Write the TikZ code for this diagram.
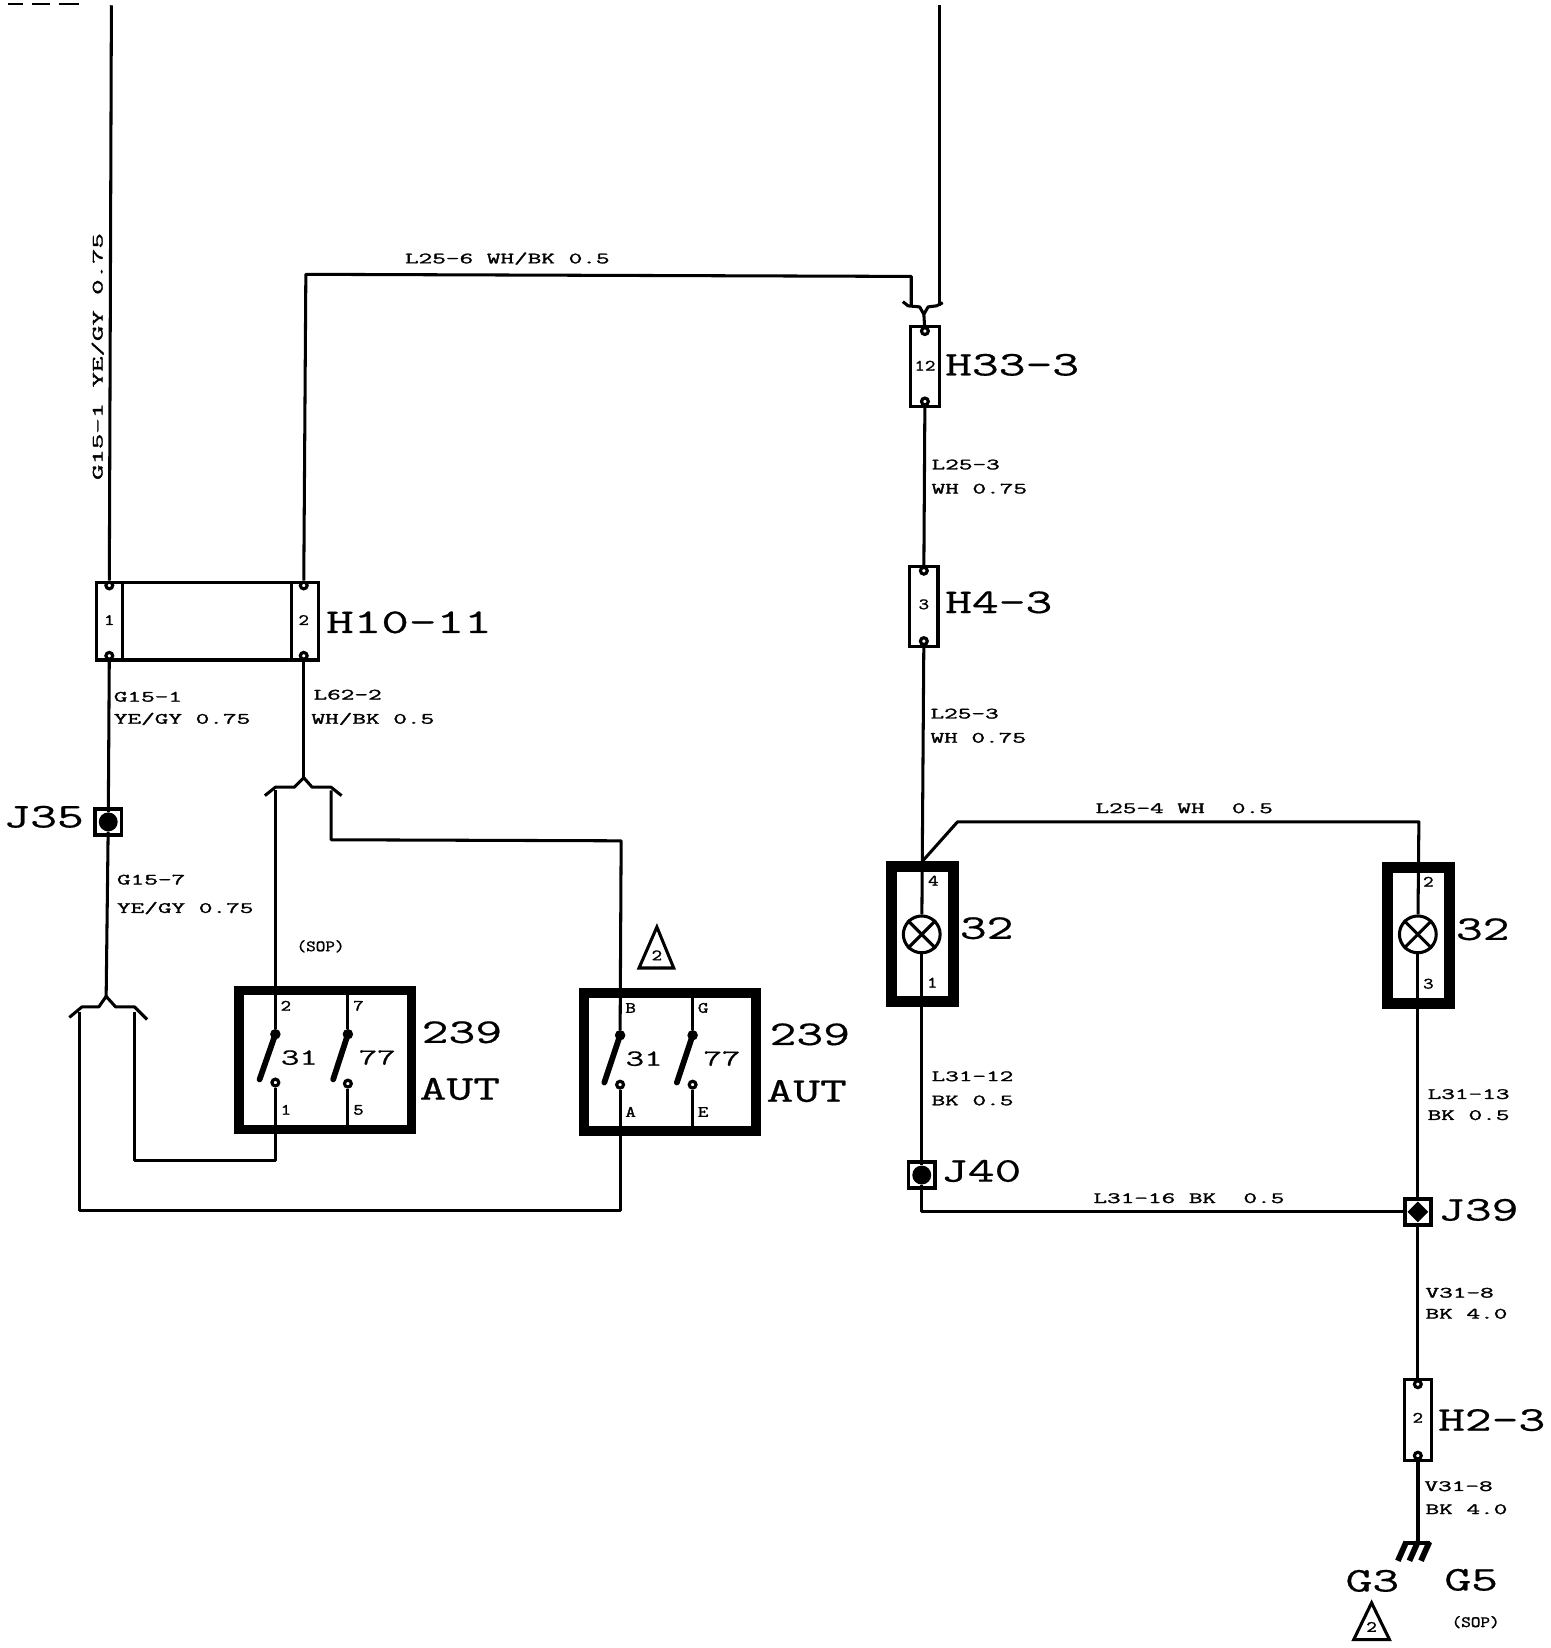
\documentclass[tikz,border=0pt]{standalone}
\usepackage{fontspec}
\usetikzlibrary{shapes}
\newfontfamily\wirefont[FakeBold=1.4]{Latin Modern Mono}
\newfontfamily\bigfont[FakeBold=0.5]{Latin Modern Mono}
\tikzset{
  wire/.style={line width=2.9pt,line join=round},
  thickwire/.style={line width=3.8pt,line join=round},
  connbox/.style={draw,line width=3pt,inner sep=0pt},
  relaybox/.style={draw,line width=9pt,inner sep=0pt},
  lampbox/.style={draw,line width=10.5pt,inner sep=0pt},
  jointbox/.style={draw,line width=3.5pt,inner sep=0pt,minimum size=25pt},
  jointdot/.style={circle,fill=black,inner sep=0pt,minimum size=18pt},
  termdot/.style={circle,draw,fill=white,line width=3pt,inner sep=0pt,minimum size=6.5pt},
  pivotdot/.style={circle,fill=black,inner sep=0pt,minimum size=10pt},
  blade/.style={line width=5.5pt,line cap=round},
  bigtext/.style={inner sep=0pt,anchor=west,text height=20.5pt,text depth=0pt,xscale=1.5,
    font=\fontsize{33}{33}\selectfont\bigfont},
  midtext/.style={inner sep=0pt,anchor=west,text height=14pt,text depth=0pt,xscale=1.55,
    font=\fontsize{22}{22}\selectfont\bigfont},
  wiretext/.style={inner sep=0pt,anchor=west,text height=9.2pt,text depth=0pt,xscale=1.68,
    font=\fontsize{15}{15}\selectfont\wirefont},
  sidetext/.style={inner sep=0pt,anchor=west,text height=9.2pt,text depth=0pt,yscale=1.9,rotate=90,
    font=\fontsize{15}{15}\selectfont\wirefont},
  pintext/.style={inner sep=0pt,text height=9.2pt,text depth=0pt,xscale=1.3,
    font=\fontsize{15}{15}\selectfont\wirefont},
  soptext/.style={inner sep=0pt,text height=11pt,text depth=3pt,xscale=1.18,
    font=\fontsize{15}{15}\selectfont\wirefont},
}

\begin{document}
\begin{tikzpicture}[x=1pt,y=-1pt]
  \useasboundingbox (0,0) rectangle (1475,1568);
  % Free wire ends
  \coordinate (topA) at (106,5);
  \coordinate (topB) at (894,5);
  % Top dashes
  \draw[line width=2pt] (8,4) -- (22,4) (30,4) -- (48,4) (56,4) -- (75,4);

  % Connectors
  \node[connbox,minimum width=211pt,minimum height=74pt] (H10) at (197.5,591) {};
  \node[connbox,minimum width=27pt,minimum height=76pt] (H33) at (880,349) {};
  \node[connbox,minimum width=27pt,minimum height=76pt] (H4) at (879,577) {};
  \node[connbox,minimum width=26pt,minimum height=77pt] (H2) at (1349,1351) {};
  \draw[wire] (117,554) -- (117,628);
  \draw[wire] (277,554) -- (277,628);
  % Connector pins
  \node[termdot] (H10a) at (104,557) {};
  \node[termdot] (H10b) at (289,557) {};
  \node[termdot] (H10c) at (104,624) {};
  \node[termdot] (H10d) at (289,624) {};
  \node[termdot] (H33a) at (880,315) {};
  \node[termdot] (H33b) at (880,382) {};
  \node[termdot] (H4a) at (879,543) {};
  \node[termdot] (H4b) at (879,610) {};
  \node[termdot] (H2a) at (1349,1317) {};
  \node[termdot] (H2b) at (1349,1385) {};

  % Joints
  \node[jointbox] (J35) at (103,782) {};
  \node[jointdot] (J35d) at (103,782) {};
  \node[jointbox] (J40) at (877,1118) {};
  \node[jointdot] (J40d) at (877,1118) {};
  \node[jointbox] (J39) at (1349,1153) {};
  \node[diamond,fill=black,inner sep=0pt,minimum size=20pt] (J39d) at (1349,1153) {};

  % Lamps
  \node[lampbox,minimum width=59pt,minimum height=129pt] (lampboxA) at (877.5,888.5) {};
  \node[lampbox,minimum width=59pt,minimum height=130pt] (lampboxB) at (1349.5,890) {};
  \node[circle,draw,line width=2.9pt,inner sep=0pt,minimum size=35pt] (lampA) at (877,889) {};
  \node[circle,draw,line width=2.9pt,inner sep=0pt,minimum size=35pt] (lampB) at (1349,889) {};
  \draw[wire] (lampA.45) -- (lampA.225) (lampA.135) -- (lampA.315);
  \draw[wire] (lampB.45) -- (lampB.225) (lampB.135) -- (lampB.315);

  % Switch boxes
  \node[relaybox,minimum width=164pt,minimum height=132pt] (relayA) at (309.5,1008.5) {};
  \node[relaybox,minimum width=164pt,minimum height=131pt] (relayB) at (637.5,1010.5) {};
  \node[pivotdot] (swAa) at (262,984) {};
  \node[pivotdot] (swAc) at (331,984) {};
  \node[termdot] (swAb) at (262,1030) {};
  \node[termdot] (swAd) at (331,1031) {};
  \node[pivotdot] (swBa) at (590,985) {};
  \node[pivotdot] (swBc) at (659,985) {};
  \node[termdot] (swBb) at (590,1032) {};
  \node[termdot] (swBd) at (659,1032) {};
  \draw[blade] (swAa.center) -- (247,1027);
  \draw[blade] (swAc.center) -- (317,1027);
  \draw[blade] (swBa.center) -- (575,1030);
  \draw[blade] (swBc.center) -- (644,1030);

  % Splice forks
  \coordinate (forkT) at (879,299);
  \coordinate (forkA) at (289,740);
  \coordinate (forkB) at (101,948);
  \coordinate (forkTl) at (867,291);
  \coordinate (forkTr) at (894,291);
  \coordinate (forkAl) at (262,752);
  \coordinate (forkAr) at (315,752);
  \coordinate (forkBl) at (76,963);
  \coordinate (forkBr) at (128,963);
  \draw[wire] (859,287) -- (864,291) -- (875,292) -- (forkT) -- (883,292) -- (891,291) -- (897,288);
  \draw[wire] (252,757) -- (262,749) -- (280,749) -- (forkA) -- (297,749) -- (315,749) -- (325,757);
  \draw[wire] (66,968) -- (78,958) -- (94,958) -- (forkB) -- (110,958) -- (128,958) -- (140,970);

  % Wires, top part
  \draw[wire] (topA) -- (H10a);
  \draw[wire] (H10b) -- (291,261) -- (867,263) -- (forkTl);
  \draw[wire] (topB) -- (forkTr);
  \draw[wire] (forkT) -- (H33a);
  \draw[wire] (H33b) -- (H4a);
  \draw[wire] (H4b) -- (lampA);
  \draw[wire] (878,819) -- (911,782) -- (1350,782) -- (lampB);
  \draw[wire] (lampA) -- (J40d);
  \draw[wire] (lampB) -- (J39d);
  \draw[wire] (J40d) |- (J39d);
  \draw[wire] (J39d) -- (H2a);
  \draw[thickwire] (H2b) -- (1349,1468);

  % Wires, left part
  \draw[wire] (H10c) -- (J35d);
  \draw[wire] (J35d) -- (forkB);
  \draw[wire] (H10d) -- (forkA);
  \draw[wire] (forkAl) -- (swAa);
  \draw[wire] (forkAr) -- (315,799) -- (591,800) -- (swBa);
  \draw[wire] (forkBl) -- (76,1152) -- (590,1152) -- (swBb);
  \draw[wire] (forkBr) -- (128,1104) -- (262,1104) -- (swAb);
  \draw[wire] (swAc) -- (331,943);
  \draw[wire] (swAd) -- (331,1075);
  \draw[wire] (swBc) -- (659,946);
  \draw[wire] (swBd) -- (659,1076);

  % Ground
  \draw[line width=3.5pt] (1337,1468) -- (1361,1468);
  \draw[blade,line cap=butt] (1338,1467) -- (1330,1485);
  \draw[blade,line cap=butt] (1349,1467) -- (1341,1485);
  \draw[blade,line cap=butt] (1360,1467) -- (1352,1485);

  % Triangle marks
  \draw[line width=2.9pt,line join=miter] (625,882) -- (608,921) -- (641,921) -- cycle;
  \draw[line width=2.9pt,line join=miter] (1305,1525) -- (1288,1560) -- (1322,1560) -- cycle;
  \node[pintext] (triA) at (625,909) {2};
  \node[pintext] (triB) at (1305,1548) {2};

  % Big labels
  \node[bigtext] (lblH33) at (899,347) {H33-3};
  \node[bigtext] (lblH4) at (899,573) {H4-3};
  \node[bigtext,xscale=1.03] (lblH10) at (310,592) {H10-11};
  \node[bigtext] (lblH2) at (1368,1351) {H2-3};
  \node[bigtext] (lblJ35) at (3,777) {J35};
  \node[bigtext] (lblJ40) at (895,1114) {J40};
  \node[bigtext] (lblJ39) at (1368,1151) {J39};
  \node[bigtext] (lblLampA) at (913,883) {32};
  \node[bigtext] (lblLampB) at (1385,884) {32};
  \node[bigtext] (lblRelayA) at (401,982) {239};
  \node[bigtext] (lblAutA) at (399,1036) {AUT};
  \node[bigtext] (lblRelayB) at (732,984) {239};
  \node[bigtext] (lblAutB) at (729,1038) {AUT};
  \node[bigtext] (lblG3) at (1280,1504) {G3};
  \node[bigtext] (lblG5) at (1374,1503) {G5};

  % Relay numbers
  \node[midtext] (numA) at (267,1006) {31};
  \node[midtext] (numB) at (341,1006) {77};
  \node[midtext] (numC) at (595,1007) {31};
  \node[midtext] (numD) at (669,1007) {77};

  % Pin labels
  \node[pintext] (pinH33) at (880,348) {12};
  \node[pintext] (pinH4) at (879,575) {3};
  \node[pintext] (pinH10a) at (104,590) {1};
  \node[pintext] (pinH10b) at (289,590) {2};
  \node[pintext] (pinH2) at (1349,1349) {2};
  \node[pintext] (pinLa) at (888,838) {4};
  \node[pintext] (pinLb) at (887,935) {1};
  \node[pintext] (pinLc) at (1359,839) {2};
  \node[pintext] (pinLd) at (1359,936) {3};
  \node[pintext] (pinAa) at (272,957) {2};
  \node[pintext] (pinAb) at (341,957) {7};
  \node[pintext] (pinAc) at (272,1056) {1};
  \node[pintext] (pinAd) at (341,1056) {5};
  \node[pintext] (pinBa) at (600,959) {B};
  \node[pintext] (pinBb) at (669,959) {G};
  \node[pintext] (pinBc) at (600,1058) {A};
  \node[pintext] (pinBd) at (669,1058) {E};

  % Wire labels
  \node[sidetext] (wireA) at (93,457) {G15-1 YE/GY 0.75};
  \node[wiretext] (wireB) at (385,246) {L25-6 WH/BK 0.5};
  \node[wiretext] (wireC) at (886,442) {L25-3};
  \node[wiretext] (wireD) at (886,465) {WH 0.75};
  \node[wiretext] (wireE) at (885,679) {L25-3};
  \node[wiretext] (wireF) at (885,702) {WH 0.75};
  \node[wiretext] (wireG) at (1042,769) {L25-4 WH~ 0.5};
  \node[wiretext] (wireH) at (886,1024) {L31-12};
  \node[wiretext] (wireI) at (886,1047) {BK 0.5};
  \node[wiretext] (wireJ) at (1358,1041) {L31-13};
  \node[wiretext] (wireK) at (1358,1061) {BK 0.5};
  \node[wiretext] (wireL) at (1040,1140) {L31-16 BK~ 0.5};
  \node[wiretext] (wireM) at (1356,1230) {V31-8};
  \node[wiretext] (wireN) at (1356,1250) {BK 4.0};
  \node[wiretext] (wireO) at (1355,1414) {V31-8};
  \node[wiretext] (wireP) at (1356,1436) {BK 4.0};
  \node[wiretext] (wireQ) at (108,663) {G15-1};
  \node[wiretext] (wireR) at (108,684) {YE/GY 0.75};
  \node[wiretext] (wireS) at (298,661) {L62-2};
  \node[wiretext] (wireT) at (296,684) {WH/BK 0.5};
  \node[wiretext] (wireU) at (111,837) {G15-7};
  \node[wiretext] (wireV) at (111,864) {YE/GY 0.75};
  % Notes
  \node[soptext] (sopA) at (305,901) {(SOP)};
  \node[soptext] (sopB) at (1404,1544) {(SOP)};
\end{tikzpicture}
\end{document}
